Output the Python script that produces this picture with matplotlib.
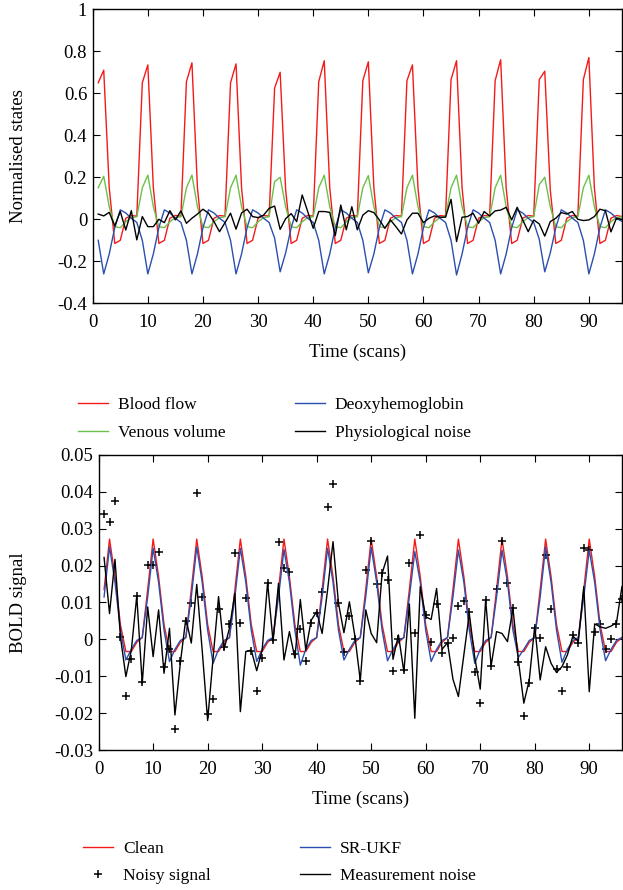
import matplotlib
matplotlib.use("Agg")
import matplotlib.pyplot as plt
from matplotlib.ticker import FormatStrFormatter, MultipleLocator

plt.rcParams["font.family"] = ["Liberation Serif", "DejaVu Serif"]
plt.rcParams["axes.unicode_minus"] = False

scans = list(range(1, 97))

# top panel: normalised hemodynamic states (one row per 8-scan cycle)
blood_flow = [
    0.65, 0.71, 0.15, -0.115, -0.10, 0.005, 0.018, 0.015,
    0.65, 0.735, 0.15, -0.115, -0.10, 0.005, 0.018, 0.015,
    0.655, 0.745, 0.15, -0.115, -0.10, 0.005, 0.018, 0.015,
    0.65, 0.74, 0.15, -0.115, -0.10, 0.005, 0.018, 0.015,
    0.625, 0.70, 0.14, -0.115, -0.10, 0.005, 0.018, 0.015,
    0.655, 0.755, 0.15, -0.115, -0.10, 0.005, 0.018, 0.015,
    0.66, 0.75, 0.15, -0.115, -0.10, 0.005, 0.018, 0.015,
    0.66, 0.735, 0.15, -0.115, -0.10, 0.005, 0.018, 0.015,
    0.665, 0.755, 0.15, -0.115, -0.10, 0.005, 0.018, 0.015,
    0.66, 0.76, 0.15, -0.115, -0.10, 0.005, 0.018, 0.015,
    0.665, 0.705, 0.14, -0.115, -0.10, 0.005, 0.018, 0.015,
    0.665, 0.77, 0.15, -0.115, -0.10, 0.005, 0.018, 0.013,
]
venous_volume = [
    0.15, 0.205, 0.06, -0.035, -0.04, -0.012, 0.008, 0.012,
    0.15, 0.21, 0.06, -0.035, -0.04, -0.012, 0.008, 0.012,
    0.15, 0.21, 0.06, -0.035, -0.04, -0.012, 0.008, 0.012,
    0.15, 0.21, 0.06, -0.035, -0.04, -0.012, 0.008, 0.012,
    0.18, 0.20, 0.06, -0.035, -0.04, -0.012, 0.008, 0.012,
    0.15, 0.21, 0.06, -0.035, -0.04, -0.012, 0.008, 0.012,
    0.15, 0.208, 0.06, -0.035, -0.04, -0.012, 0.008, 0.012,
    0.15, 0.21, 0.06, -0.035, -0.04, -0.012, 0.008, 0.012,
    0.15, 0.21, 0.06, -0.035, -0.04, -0.012, 0.008, 0.012,
    0.15, 0.21, 0.06, -0.035, -0.04, -0.012, 0.008, 0.012,
    0.165, 0.20, 0.06, -0.035, -0.04, -0.012, 0.008, 0.012,
    0.15, 0.21, 0.06, -0.035, -0.04, -0.012, 0.008, 0.012,
]
deoxyhemoglobin = [
    -0.10, -0.26, -0.165, -0.04, 0.045, 0.03, 0.005, -0.015,
    -0.10, -0.26, -0.165, -0.04, 0.045, 0.03, 0.005, -0.015,
    -0.10, -0.26, -0.165, -0.04, 0.045, 0.03, 0.005, -0.015,
    -0.10, -0.26, -0.165, -0.04, 0.045, 0.03, 0.005, -0.015,
    -0.09, -0.25, -0.16, -0.04, 0.045, 0.03, 0.005, -0.015,
    -0.10, -0.26, -0.165, -0.04, 0.045, 0.03, 0.005, -0.015,
    -0.10, -0.255, -0.165, -0.04, 0.045, 0.03, 0.005, -0.015,
    -0.10, -0.26, -0.165, -0.04, 0.045, 0.03, 0.005, -0.015,
    -0.10, -0.265, -0.165, -0.04, 0.045, 0.03, 0.005, -0.015,
    -0.10, -0.26, -0.165, -0.04, 0.045, 0.03, 0.005, -0.015,
    -0.095, -0.25, -0.16, -0.04, 0.045, 0.03, 0.005, -0.015,
    -0.10, -0.26, -0.165, -0.04, 0.045, 0.03, 0.005, -0.01,
]
physio_noise = [
    0.025, 0.016, 0.033, -0.032, 0.037, -0.051, 0.041, -0.098,
    0.013, -0.035, -0.035, 0.0, -0.016, 0.041, -0.003, 0.04,
    -0.019, 0.005, 0.025, 0.048, 0.029, -0.011, -0.059, -0.016,
    0.029, -0.047, 0.03, 0.048, 0.013, 0.008, 0.02, 0.052,
    0.063, -0.048, 0.003, 0.027, -0.011, 0.116, 0.037, -0.043,
    0.037, 0.037, 0.033, -0.078, 0.068, -0.05, 0.06, -0.05,
    0.02, 0.041, 0.032, -0.003, -0.043, -0.003, -0.035, -0.07,
    -0.003, 0.029, 0.029, -0.016, 0.005, 0.016, 0.01, 0.01,
    0.095, -0.106, 0.01, 0.013, 0.029, -0.019, 0.037, 0.016,
    0.04, 0.044, 0.057, -0.003, 0.057, -0.003, -0.059, -0.003,
    -0.022, -0.08, -0.011, 0.005, 0.032, 0.025, 0.037, 0.0,
    -0.006, -0.003, 0.013, 0.048, 0.041, -0.06, 0.005, 0.0,
]

# bottom panel: BOLD signal
clean = [
    0.0135, 0.0272, 0.017, 0.004, -0.0033, -0.0033, -0.0008, 0.0005,
    0.0135, 0.0272, 0.017, 0.004, -0.0033, -0.0033, -0.0008, 0.0005,
    0.0135, 0.0272, 0.017, 0.004, -0.0033, -0.0033, -0.0008, 0.0005,
    0.0135, 0.0272, 0.017, 0.004, -0.0033, -0.0033, -0.0008, 0.0005,
    0.0135, 0.0272, 0.017, 0.004, -0.0033, -0.0033, -0.0008, 0.0005,
    0.0135, 0.0272, 0.017, 0.004, -0.0033, -0.0033, -0.0008, 0.0005,
    0.0135, 0.0272, 0.017, 0.004, -0.0033, -0.0033, -0.0008, 0.0005,
    0.0135, 0.0272, 0.017, 0.004, -0.0033, -0.0033, -0.0008, 0.0005,
    0.0135, 0.0272, 0.017, 0.004, -0.0033, -0.0033, -0.0008, 0.0005,
    0.0135, 0.0272, 0.017, 0.004, -0.0033, -0.0033, -0.0008, 0.0005,
    0.0135, 0.0272, 0.017, 0.004, -0.0033, -0.0033, -0.0008, 0.0005,
    0.0135, 0.0272, 0.017, 0.004, -0.0033, -0.0033, -0.0008, 0.0005,
]
noisy = [
    0.034, 0.0319, 0.0375, 0.0006, -0.0154, -0.0054, 0.0118, -0.0116,
    0.0201, 0.0201, 0.0237, -0.0074, -0.0027, -0.0242, -0.006, 0.0051,
    0.0099, 0.0396, 0.0114, -0.0203, -0.0162, 0.0081, -0.0022, 0.0043,
    0.0235, 0.0044, 0.0112, -0.0032, -0.0139, -0.0051, 0.0152, -0.0002,
    0.0265, 0.0194, 0.0182, -0.0039, 0.0028, -0.0058, 0.0045, 0.0071,
    0.0128, 0.036, 0.0422, 0.0098, -0.0033, 0.0064, 0.0, -0.0112,
    0.0188, 0.0267, 0.015, 0.0179, 0.0162, -0.0085, 0.0, -0.0082,
    0.0208, 0.0018, 0.0284, 0.0066, -0.0006, 0.0096, -0.0038, -0.0009,
    0.0003, 0.0091, 0.0105, 0.0073, -0.0089, -0.0172, 0.0106, -0.0072,
    0.0136, 0.0267, 0.0153, 0.0085, -0.0062, -0.0207, -0.0117, 0.003,
    0.0005, 0.023, 0.0081, -0.0081, -0.014, -0.0074, 0.0012, -0.0009,
    0.0248, 0.0242, 0.002, 0.0043, -0.0026, 0.0001, 0.0043, 0.011,
]
sr_ukf = [
    0.0115, 0.0251, 0.0155, 0.0025, -0.0056, -0.0027, -0.0003, 0.0005,
    0.0115, 0.0247, 0.0155, 0.0025, -0.006, -0.0027, -0.0003, 0.0005,
    0.0115, 0.0251, 0.0155, 0.0025, -0.0065, -0.0027, -0.0003, 0.0005,
    0.0115, 0.0247, 0.0155, 0.0025, -0.006, -0.0027, -0.0003, 0.0005,
    0.0115, 0.0244, 0.0155, 0.0025, -0.007, -0.0027, -0.0003, 0.0005,
    0.0115, 0.0247, 0.0155, 0.0025, -0.0056, -0.0027, -0.0003, 0.0005,
    0.0115, 0.025, 0.0155, 0.0025, -0.0058, -0.0027, -0.0003, 0.0005,
    0.0115, 0.0238, 0.0155, 0.0025, -0.006, -0.0027, -0.0003, 0.0005,
    0.0115, 0.0242, 0.0155, 0.0025, -0.0065, -0.0027, -0.0003, 0.0005,
    0.0115, 0.0242, 0.0155, 0.0025, -0.0049, -0.0027, -0.0003, 0.0005,
    0.0115, 0.0251, 0.0155, 0.0025, -0.0062, -0.0027, -0.0003, 0.0005,
    0.0115, 0.0242, 0.0155, 0.0025, -0.0058, -0.0027, -0.0003, 0.0005,
]
meas_noise = [
    0.0222, 0.007, 0.0217, 0.0007, -0.0101, -0.0029, 0.0118, -0.012,
    0.0088, -0.0047, 0.008, -0.0092, 0.003, -0.0205, -0.0063, 0.0057,
    -0.001, 0.0149, -0.003, -0.022, -0.005, 0.0116, -0.0027, 0.003,
    0.0125, -0.0196, -0.0033, -0.0029, -0.0085, -0.0029, 0.0154, -0.0006,
    0.0152, -0.0056, 0.0021, -0.0051, 0.0108, -0.0029, 0.0052, 0.0075,
    0.0016, 0.0134, 0.0265, 0.0098, 0.0018, 0.0102, 0.001, -0.0112,
    0.008, 0.0016, -0.0009, 0.0179, 0.0226, -0.0054, 0.0012, -0.0088,
    0.0096, -0.0214, 0.0143, 0.0061, 0.0054, 0.0138, -0.0027, -0.0009,
    -0.0108, -0.0155, -0.0042, 0.007, -0.0049, -0.0135, 0.0107, -0.0072,
    0.0021, 0.0016, -0.0006, 0.0084, -0.0056, -0.0173, -0.011, 0.0036,
    -0.011, -0.002, -0.0065, -0.009, -0.0074, -0.0042, 0.0009, -0.0006,
    0.0143, -0.0142, 0.0042, 0.0034, 0.003, 0.0036, 0.0045, 0.0143,
]

RED = "#f41a1a"
GREEN = "#6cc04a"
BLUE = "#2a4fae"
BLACK = "#000000"
FS = 13.5      # ticks and axis labels
LEG_FS = 12.5  # legend text


def style_axes(ax):
    ax.tick_params(direction="in", top=True, right=True, length=5, width=0.8,
                   labelsize=FS)
    ax.tick_params(axis="x", pad=8)
    ax.tick_params(axis="y", pad=4)
    for s in ax.spines.values():
        s.set_linewidth(1.0)
    ax.set_xlim(0, 96)
    ax.xaxis.set_major_locator(MultipleLocator(10))
    ax.set_xlabel("Time (scans)", fontsize=FS)


fig = plt.figure(figsize=(6.23, 8.9), dpi=100)

ax1 = fig.add_axes([0.1488, 0.6592, 0.8495, 0.3304])
ax1.plot(scans, blood_flow, color=RED, lw=1.0, label="Blood flow")
ax1.plot(scans, venous_volume, color=GREEN, lw=1.0, label="Venous volume")
ax1.plot(scans, deoxyhemoglobin, color=BLUE, lw=1.0, label="Deoxyhemoglobin")
ax1.plot(scans, physio_noise, color=BLACK, lw=1.0, label="Physiological noise")
ax1.set_ylim(-0.4, 1.0)
ax1.yaxis.set_major_locator(MultipleLocator(0.2))
ax1.yaxis.set_major_formatter(FormatStrFormatter("%g"))
style_axes(ax1)
ax1.set_ylabel("Normalised states", fontsize=FS)
ax1.yaxis.set_label_coords(-0.124, 0.5)
ax1.xaxis.set_label_coords(0.5, -0.136)

fig.legend(*ax1.get_legend_handles_labels(), loc="upper left",
           bbox_to_anchor=(78 / 623, 1 - 397 / 890), ncol=2, frameon=False,
           fontsize=LEG_FS, handlelength=1.7, handletextpad=0.6,
           columnspacing=4.0, labelspacing=0.65, borderpad=0,
           borderaxespad=0)

ax2 = fig.add_axes([0.1583, 0.1573, 0.84, 0.3315])
ax2.plot(scans, clean, color=RED, lw=1.0, label="Clean")
ax2.plot(scans, noisy, ls="none", marker="+", ms=6, mew=1.1, color=BLACK,
         label="Noisy signal")
ax2.plot(scans, sr_ukf, color=BLUE, lw=1.0, label="SR-UKF")
ax2.plot(scans, meas_noise, color=BLACK, lw=1.0, label="Measurement noise")
ax2.set_ylim(-0.03, 0.05)
ax2.yaxis.set_major_locator(MultipleLocator(0.01))
ax2.yaxis.set_major_formatter(FormatStrFormatter("%g"))
style_axes(ax2)
ax2.set_ylabel("BOLD signal", fontsize=FS)
ax2.yaxis.set_label_coords(-0.137, 0.5)
ax2.xaxis.set_label_coords(0.5, -0.139)

fig.legend(*ax2.get_legend_handles_labels(), loc="upper left",
           bbox_to_anchor=(83 / 623, 1 - 841 / 890), ncol=2, frameon=False,
           fontsize=LEG_FS, handlelength=1.7, handletextpad=0.6,
           columnspacing=5.15, labelspacing=0.6, borderpad=0,
           borderaxespad=0, numpoints=1)

fig.savefig("out.png", dpi=100)
